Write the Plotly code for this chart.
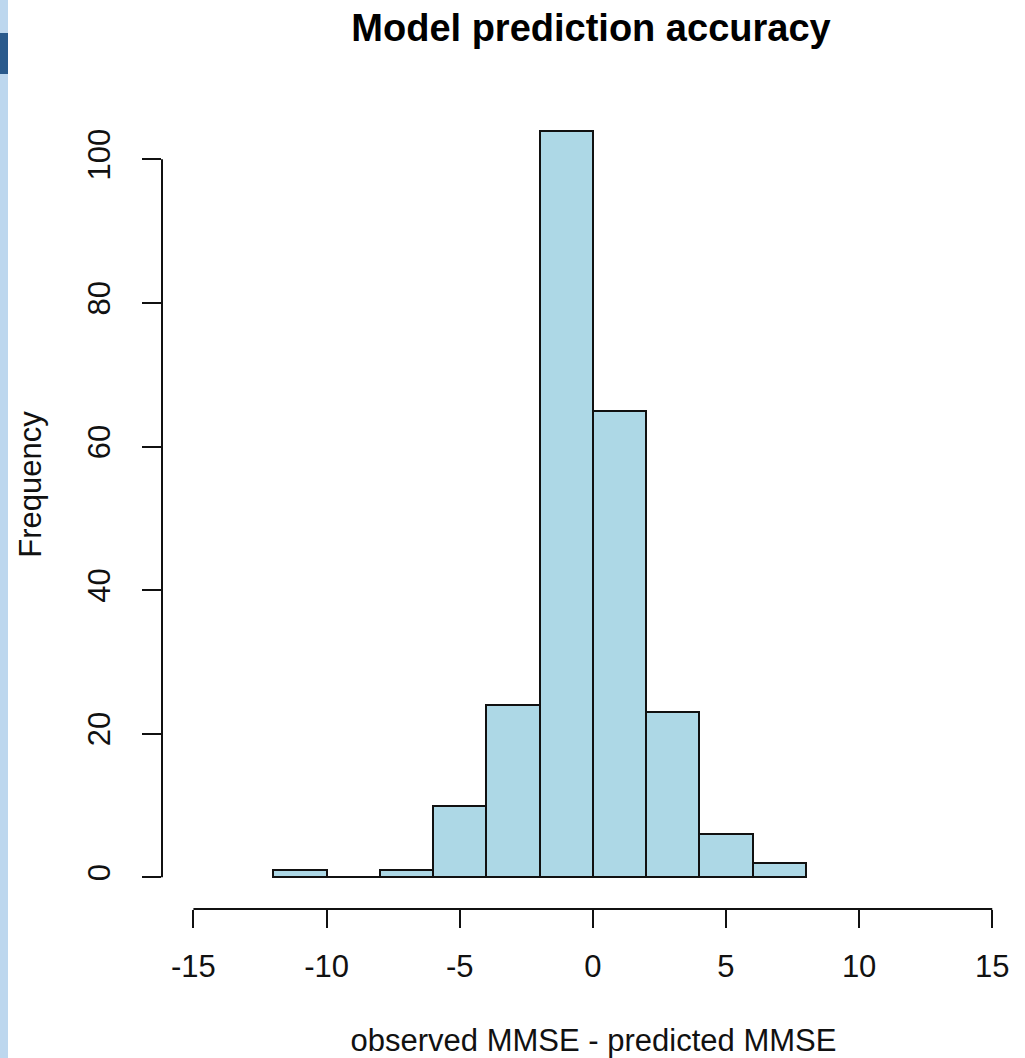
import plotly.graph_objects as go

# ---- data ----
bin_edges = [-12, -10, -8, -6, -4, -2, 0, 2, 4, 6, 8]
counts = [1, 0, 1, 10, 24, 104, 65, 23, 6, 2]
x_ticks = [-15, -10, -5, 0, 5, 10, 15]
y_ticks = [0, 20, 40, 60, 80, 100]
title_text = "Model prediction accuracy"
x_label = "observed MMSE - predicted MMSE"
y_label = "Frequency"

centers = [(a + b) / 2 for a, b in zip(bin_edges[:-1], bin_edges[1:])]
widths = [b - a for a, b in zip(bin_edges[:-1], bin_edges[1:])]

W, H = 1025, 1058
ML, MR, MT, MB = 162, 0, 60, 149
FONT = "Liberation Sans, Arial, sans-serif"

fig = go.Figure()
fig.add_trace(go.Bar(
    x=centers, y=counts, width=widths,
    marker=dict(color="#ADD8E6", line=dict(color="#111111", width=2)),
    hoverinfo="x+y",
))

# R-style axis lines spanning only the tick range
fig.add_shape(type="line", xref="x", yref="paper", x0=x_ticks[0], x1=x_ticks[-1], y0=0, y1=0,
              line=dict(color="#111111", width=2))
fig.add_shape(type="line", xref="paper", yref="y", x0=0, x1=0, y0=y_ticks[0], y1=y_ticks[-1],
              line=dict(color="#111111", width=2))

# left decorative strip (window edge in the screenshot)
fig.add_shape(type="rect", xref="paper", yref="paper", xsizemode="pixel", xanchor=0,
              x0=-ML, x1=-ML + 8, y0=-0.5, y1=1.5, line=dict(width=0), fillcolor="#BDD7EE", layer="below")
fig.add_shape(type="rect", xref="paper", yref="paper", xsizemode="pixel", xanchor=0,
              ysizemode="pixel", yanchor=1, x0=-ML, x1=-ML + 8, y0=MT - 33, y1=MT - 74,
              line=dict(width=0), fillcolor="#2A5A8C", layer="below")

fig.update_layout(
    width=W, height=H,
    margin=dict(l=ML, r=MR, t=MT, b=MB, pad=0),
    paper_bgcolor="white", plot_bgcolor="white",
    showlegend=False,
    font=dict(family=FONT, size=31, color="#111111"),
    title=dict(text="<b>" + title_text + "</b>", x=(591 - 0) / W, xanchor="center",
               y=1 - 28 / H, yanchor="middle", font=dict(size=38, family=FONT, color="#000000")),
    bargap=0,
)

fig.update_xaxes(
    range=[-16.18, 16.23], tickvals=x_ticks, ticktext=[str(v) for v in x_ticks],
    showgrid=False, zeroline=False, showline=False,
    ticks="outside", ticklen=18, tickwidth=2, tickcolor="#111111",
    ticklabelstandoff=12,
    tickfont=dict(size=31, family=FONT, color="#111111"),
    title=dict(text=x_label, font=dict(size=31, family=FONT, color="#111111"), standoff=48),
)
fig.update_yaxes(
    range=[-4.41, 113.83], tickvals=y_ticks, ticktext=[str(v) for v in y_ticks],
    showgrid=False, zeroline=False, showline=False,
    ticks="outside", ticklen=19, tickwidth=2, tickcolor="#111111", tickangle=-90,
    ticklabelstandoff=20,
    tickfont=dict(size=31, family=FONT, color="#111111"),
    title=dict(text=y_label, font=dict(size=31, family=FONT, color="#111111"), standoff=30),
)

fig.write_html("out.html")
